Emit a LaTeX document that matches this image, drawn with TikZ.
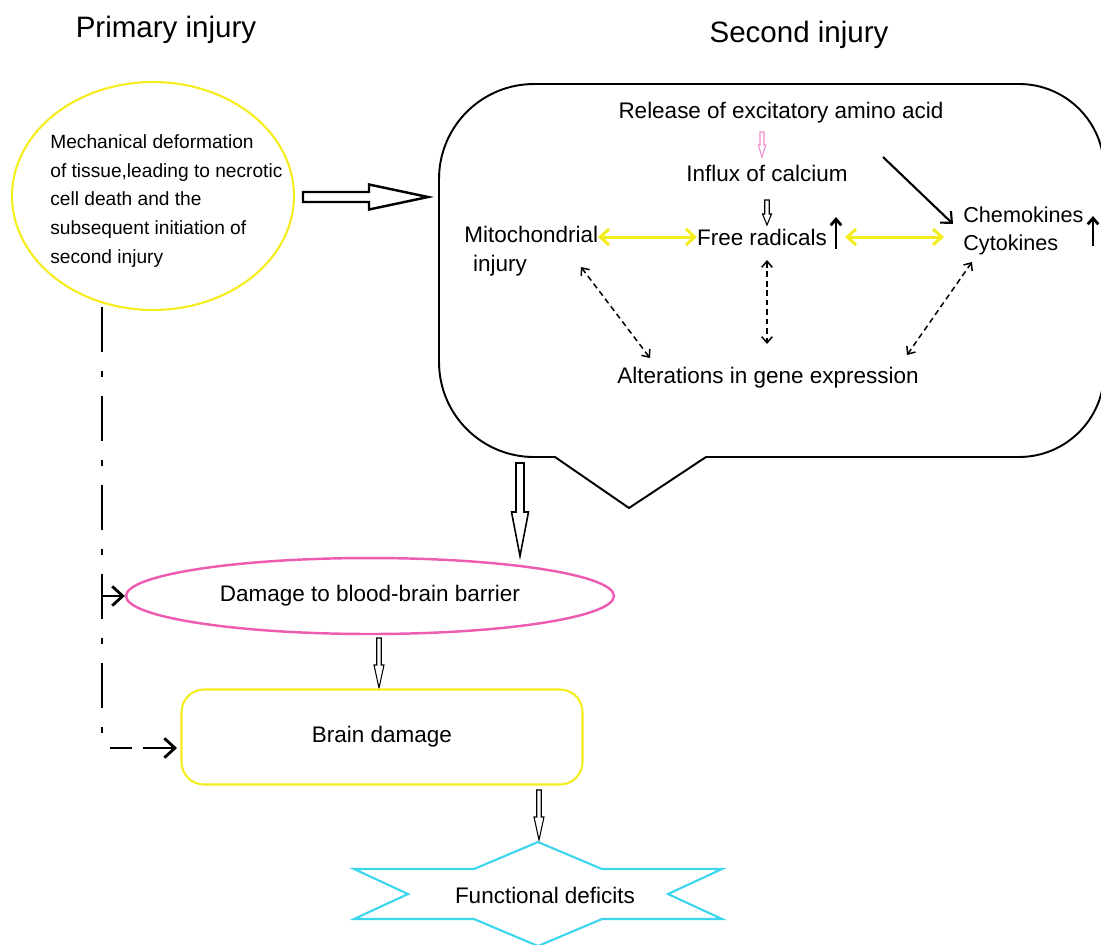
\documentclass[tikz,border=0pt]{standalone}
\usepackage{fontspec}
\setmainfont{Liberation Sans}
\usetikzlibrary{arrows.meta,calc,shapes.geometric}
\definecolor{eyellow}{RGB}{244,236,28}
\definecolor{epink}{RGB}{238,92,178}
\definecolor{lpink}{RGB}{240,140,205}
\definecolor{ecyan}{RGB}{60,214,236}
% block (hollow) arrow: [style]{start}{tip}{shaft half width}{head half width}{head length}
\newcommand\blockarrow[6][]{%
  \coordinate (bahead) at ($(#3)!#6!(#2)$);
  \draw[#1] ($(#2)!#4!90:(#3)$) -- ($(bahead)!#4!90:(#3)$) -- ($(bahead)!#5!90:(#3)$) -- (#3)
    -- ($(bahead)!#5!-90:(#3)$) -- ($(bahead)!#4!-90:(#3)$) -- ($(#2)!#4!-90:(#3)$) -- cycle;}
\begin{document}
\begin{tikzpicture}[x=0.02cm,y=-0.02cm,
  body/.style={inner sep=0pt, font=\fontsize{12.8}{16.5}\selectfont},
  titletext/.style={inner sep=0pt, font=\fontsize{16.8}{20}\selectfont},
  barb/.style={line width=1.6pt, -{Straight Barb[length=6pt,width=11pt]}},
  yarrow/.style={eyellow, line width=1.7pt, {Straight Barb[length=5pt,width=9pt]}-{Straight Barb[length=5pt,width=9pt]}},
  dasharrow/.style={line width=0.85pt, dash pattern=on 3.2pt off 2.2pt, {Straight Barb[length=3.5pt,width=6pt]}-{Straight Barb[length=3.5pt,width=6pt]}},
  uparrow/.style={line width=1.6pt, -{Straight Barb[length=3.5pt,width=6pt]}},
  diagarrow/.style={line width=1.2pt, -{Straight Barb[length=5pt,width=9pt]}}]
\useasboundingbox (0,0) rectangle (1101,944);
\clip (0,0) rectangle (1101,944);

% titles
\node[titletext] (t1) at (166,30) {Primary injury};
\node[titletext] (t2) at (799,35) {Second injury};

% primary injury ellipse
\node[draw=eyellow, line width=1.2pt, ellipse, minimum width=5.64cm, minimum height=4.56cm, inner sep=0pt] (e1) at (153,196) {};
\node[inner sep=0pt, align=left, anchor=west, font=\fontsize{10.9}{16.4}\selectfont] (e1t) at (50,201)
  {Mechanical deformation\\of tissue,leading to necrotic\\cell death and the\\subsequent initiation of\\second injury};

% second injury callout
\draw[line width=1.1pt] (439,179) arc[start angle=180,end angle=90,radius=1.9cm] -- (1019,84)
  arc[start angle=90,end angle=0,radius=1.7cm] -- (1104,372)
  arc[start angle=0,end angle=-90,radius=1.7cm] -- (706,457) -- (629,508) -- (555,457) -- (534,457)
  arc[start angle=270,end angle=180,radius=1.9cm] -- cycle;

% arrow primary -> second
\coordinate (a1s) at (303,197);
\coordinate (a1e) at (428,197);
\blockarrow[line width=1.4pt]{a1s}{a1e}{0.1cm}{0.25cm}{1.18cm}

% callout content
\node[body] (rel) at (781,113) {Release of excitatory amino acid};
\node[body] (inf) at (767,173) {Influx of calcium};
\node[body] (fr) at (762,237) {Free radicals};
\node[body, align=left, anchor=west] (mito) at (464,251) {Mitochondrial\\\hspace{5pt}injury};
\node[body, align=left, anchor=west, font=\fontsize{12.3}{16}\selectfont] (chem) at (963,231) {Chemokines\\Cytokines};
\node[body] (alt) at (768,378) {Alterations in gene expression};

\coordinate (p1s) at (762,132);
\coordinate (p1e) at (762,157);
\blockarrow[draw=lpink, line width=0.6pt]{p1s}{p1e}{0.04cm}{0.075cm}{0.24cm}
\coordinate (p2s) at (767,200);
\coordinate (p2e) at (767,225);
\blockarrow[line width=0.6pt]{p2s}{p2e}{0.045cm}{0.09cm}{0.22cm}

\coordinate (u1s) at (836,249);
\coordinate (u1e) at (836,217);
\draw[uparrow] (u1s) -- (u1e);
\coordinate (u2s) at (1093,246);
\coordinate (u2e) at (1093,216);
\draw[uparrow] (u2s) -- (u2e);

\coordinate (y1a) at (598,237);
\coordinate (y1b) at (697,237);
\draw[yarrow] (y1a) -- (y1b);
\coordinate (y2a) at (845,237);
\coordinate (y2b) at (944,237);
\draw[yarrow] (y2a) -- (y2b);

\coordinate (d1a) at (883,157);
\coordinate (d1b) at (953,224);
\draw[diagarrow] (d1a) -- (d1b);

\coordinate (k1a) at (581,267);
\coordinate (k1b) at (650,358);
\draw[dasharrow] (k1a) -- (k1b);
\coordinate (k2a) at (767,260);
\coordinate (k2b) at (767,344);
\draw[dasharrow] (k2a) -- (k2b);
\coordinate (k3a) at (972,262);
\coordinate (k3b) at (907,355);
\draw[dasharrow] (k3a) -- (k3b);

% second injury -> BBB
\coordinate (b1s) at (520,463);
\coordinate (b1e) at (520,556);
\blockarrow[line width=0.9pt]{b1s}{b1e}{0.08cm}{0.17cm}{0.88cm}

% BBB ellipse
\node[draw=epink, line width=1.4pt, ellipse, minimum width=9.76cm, minimum height=1.52cm, inner sep=0pt,
  font=\fontsize{12.8}{16}\selectfont] (pe) at (370,596) {Damage to blood-brain barrier};

\coordinate (s2s) at (379,638);
\coordinate (s2e) at (379,688);
\blockarrow[line width=0.6pt]{s2s}{s2e}{0.045cm}{0.1cm}{0.46cm}

% brain damage
\node[draw=eyellow, line width=1.2pt, rounded corners=0.45cm, minimum width=8.02cm, minimum height=1.9cm,
  inner sep=0pt, font=\fontsize{12.8}{16}\selectfont] (bd) at (382,737) {Brain damage};

\coordinate (s3s) at (539,790);
\coordinate (s3e) at (539,840);
\blockarrow[line width=0.6pt]{s3s}{s3e}{0.045cm}{0.1cm}{0.46cm}

% functional deficits star
\coordinate (sc) at (538,894);
\draw[ecyan, line width=1.2pt] ($(sc)+(0,-52)$) -- ($(sc)+(64,-25)$) -- ($(sc)+(184,-25)$) -- ($(sc)+(130,0)$)
  -- ($(sc)+(184,25)$) -- ($(sc)+(64,25)$) -- ($(sc)+(0,52)$) -- ($(sc)+(-64,25)$) -- ($(sc)+(-184,25)$)
  -- ($(sc)+(-130,0)$) -- ($(sc)+(-184,-25)$) -- ($(sc)+(-64,-25)$) -- cycle;
\node[body] (fd) at (545,895) {Functional deficits};

% dash-dot line from primary injury
\coordinate (dd0) at (102,307);
\coordinate (dd1) at (102,750);
\draw[line width=1.7pt, dash pattern=on 0.9cm off 0.38cm on 0.12cm off 0.38cm] (dd0) -- (dd1);
\coordinate (h1a) at (102,596);
\draw[barb] (h1a) -- (pe.west);
\coordinate (h2a) at (102,748);
\coordinate (h2b) at (177,748);
\draw[barb, dash pattern=on 0.44cm off 0.22cm on 1.2cm off 0.16cm, dash phase=1.86cm] (h2a) -- (h2b);
\end{tikzpicture}
\end{document}
